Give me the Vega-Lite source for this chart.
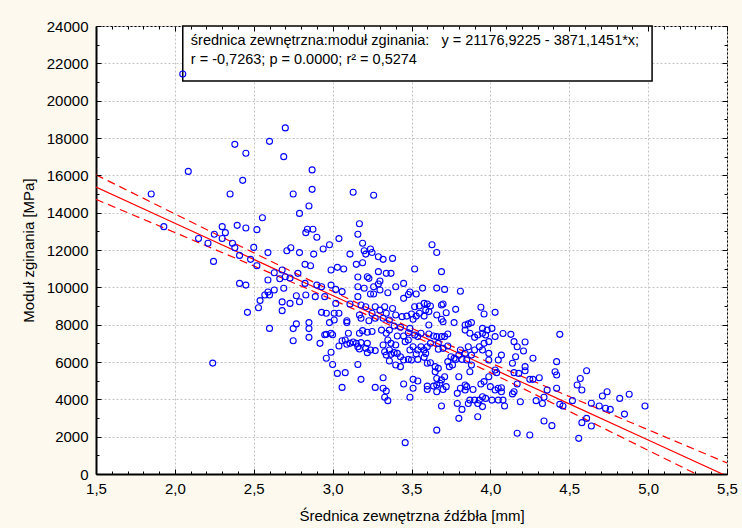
{
"$schema":"https://vega.github.io/schema/vega-lite/v6.json",
"width":631,"height":448,"autosize":"none",
"padding":{"left":96,"top":26,"right":15,"bottom":54},
"background":"#fdf9ee",
"config":{"font":"Liberation Sans","view":{"fill":"white","stroke":"black","strokeWidth":1}},
"datasets":{
"fit":[
{"x":1.5,"fit":15370,"lo":14713,"hi":16027},
{"x":2.0,"fit":13435,"lo":12934,"hi":13936},
{"x":2.5,"fit":11499,"lo":11147,"hi":11851},
{"x":3.0,"fit":9564,"lo":9336,"hi":9790},
{"x":3.5,"fit":7628,"lo":7446,"hi":7810},
{"x":4.0,"fit":5692,"lo":5430,"hi":5954},
{"x":4.5,"fit":3757,"lo":3359,"hi":4155},
{"x":5.0,"fit":1821,"lo":1271,"hi":2371},
{"x":5.5,"fit":-114,"lo":-822,"hi":594}
],
"pts":[
{"d":2.05,"m":21430},{"d":2.70,"m":18540},{"d":2.60,"m":17820},{"d":2.69,"m":17000},{"d":2.38,"m":17660},{"d":2.45,"m":17180},{"d":2.085,"m":16210},{"d":2.87,"m":16290},{"d":2.87,"m":15250},{"d":2.43,"m":15730},{"d":2.35,"m":15000},{"d":2.75,"m":15000},{"d":2.85,"m":14360},{"d":2.79,"m":13960},{"d":2.555,"m":13730},{"d":1.85,"m":15000},{"d":1.93,"m":13250},{"d":2.30,"m":13250},{"d":2.395,"m":13320},{"d":2.45,"m":13180},{"d":2.52,"m":13090},{"d":2.25,"m":12840},{"d":2.32,"m":12930},{"d":2.30,"m":12620},{"d":2.15,"m":12620},{"d":2.21,"m":12360},{"d":2.365,"m":12360},{"d":2.38,"m":12120},{"d":2.50,"m":12140},{"d":2.41,"m":11710},{"d":2.48,"m":11500},{"d":2.52,"m":11160},{"d":2.59,"m":11860},{"d":2.245,"m":11390},{"d":2.84,"m":13110},{"d":2.875,"m":13110},{"d":2.83,"m":12930},{"d":2.90,"m":12680},{"d":2.71,"m":11960},{"d":2.735,"m":12120},{"d":2.79,"m":11860},{"d":2.88,"m":11780},{"d":2.94,"m":12050},{"d":2.98,"m":12280},{"d":3.04,"m":12610},{"d":2.825,"m":11230},{"d":2.86,"m":11160},{"d":2.99,"m":10930},{"d":3.03,"m":11070},{"d":2.78,"m":10750},{"d":2.63,"m":10780},{"d":2.68,"m":10930},{"d":2.70,"m":10570},{"d":2.665,"m":10460},{"d":2.73,"m":10500},{"d":2.59,"m":10390},{"d":2.41,"m":10210},{"d":2.45,"m":10120},{"d":2.825,"m":10210},{"d":2.90,"m":10120},{"d":2.93,"m":10030},{"d":2.99,"m":10120},{"d":3.02,"m":9890},{"d":3.06,"m":9770},{"d":2.83,"m":9590},{"d":2.89,"m":9500},{"d":2.95,"m":9500},
{"d":2.46,"m":8660},{"d":2.24,"m":5940},{"d":2.53,"m":8910},{"d":2.54,"m":9290},{"d":2.57,"m":9590},{"d":2.59,"m":9750},{"d":2.60,"m":9590},{"d":2.63,"m":9860},{"d":2.60,"m":7800},{"d":2.68,"m":9220},{"d":2.68,"m":8750},{"d":2.69,"m":9950},{"d":2.73,"m":9140},{"d":2.77,"m":9550},{"d":2.79,"m":9230},{"d":2.75,"m":7790},{"d":2.77,"m":8040},{"d":2.75,"m":7140},
{"d":3.13,"m":15090},{"d":3.26,"m":14930},{"d":3.17,"m":13410},{"d":3.16,"m":12840},{"d":3.19,"m":12360},{"d":3.20,"m":11960},{"d":3.24,"m":12050},{"d":3.25,"m":11870},{"d":3.21,"m":11780},{"d":3.29,"m":11640},{"d":3.32,"m":11500},{"d":3.38,"m":11550},{"d":3.11,"m":11780},{"d":3.63,"m":12280},{"d":3.66,"m":11870},{"d":3.69,"m":10840},{"d":3.52,"m":10980},{"d":3.19,"m":11320},{"d":3.15,"m":11230},{"d":3.07,"m":10980},{"d":3.29,"m":10840},{"d":3.34,"m":10750},{"d":3.37,"m":10750},{"d":3.16,"m":10550},{"d":3.22,"m":10570},{"d":3.23,"m":10480},{"d":3.30,"m":10340},{"d":3.29,"m":10180},{"d":3.16,"m":10030},{"d":3.20,"m":9950},{"d":3.26,"m":10030},{"d":3.30,"m":9860},{"d":3.24,"m":9640},{"d":3.26,"m":9640},{"d":3.35,"m":9710},{"d":3.40,"m":10030},{"d":3.45,"m":10210},{"d":3.57,"m":9960},{"d":3.66,"m":9960},{"d":3.71,"m":9890},{"d":3.81,"m":9790},{"d":3.53,"m":9640},{"d":3.49,"m":9750},{"d":3.48,"m":9620},{"d":3.45,"m":9410},{"d":3.16,"m":9500},{"d":3.11,"m":9110},
{"d":2.85,"m":8110},{"d":2.85,"m":7790},{"d":2.85,"m":7320},{"d":2.92,"m":7000},{"d":2.93,"m":8660},{"d":2.96,"m":8610},{"d":2.95,"m":7460},{"d":2.96,"m":7480},{"d":2.99,"m":7540},{"d":3.00,"m":7460},{"d":2.98,"m":8110},{"d":3.01,"m":8610},{"d":3.04,"m":8610},{"d":3.01,"m":8250},{"d":3.09,"m":8210},{"d":3.09,"m":8110},{"d":3.02,"m":9140},{"d":2.99,"m":6520},{"d":2.96,"m":6200},{"d":3.00,"m":5870},{"d":3.03,"m":5390},{"d":3.08,"m":5430},{"d":3.06,"m":4640},{"d":3.04,"m":6860},{"d":3.06,"m":7140},{"d":3.08,"m":7180},{"d":3.09,"m":6950},{"d":3.11,"m":7000},{"d":3.13,"m":7070},{"d":3.15,"m":7000},{"d":3.16,"m":6820},{"d":3.18,"m":7040},{"d":3.22,"m":7000},{"d":3.21,"m":6730},{"d":3.22,"m":6500},{"d":3.24,"m":6640},{"d":3.27,"m":6610},{"d":3.17,"m":6700},{"d":3.10,"m":7540},{"d":3.17,"m":7540},{"d":3.19,"m":7680},{"d":3.22,"m":7590},{"d":3.25,"m":7630},{"d":3.17,"m":8520},{"d":3.18,"m":8340},{"d":3.23,"m":8210},{"d":3.27,"m":8340},{"d":3.25,"m":8610},{"d":3.21,"m":8960},{"d":3.18,"m":9050},{"d":3.27,"m":8960},{"d":3.30,"m":8780},{"d":3.33,"m":8960},{"d":3.32,"m":8340},{"d":3.34,"m":8610},{"d":3.36,"m":8250},{"d":3.38,"m":8870},{"d":3.16,"m":5870},{"d":3.18,"m":5070},{"d":3.27,"m":4640},{"d":3.32,"m":5160},{"d":3.32,"m":4590},{"d":3.34,"m":4440},{"d":3.33,"m":4110},{"d":3.35,"m":3930},{"d":3.31,"m":7710},{"d":3.32,"m":6910},{"d":3.34,"m":7540},{"d":3.35,"m":7180},{"d":3.36,"m":7710},{"d":3.37,"m":7000},{"d":3.36,"m":6640},{"d":3.33,"m":6550},{"d":3.34,"m":6370},{"d":3.36,"m":6050},{"d":3.37,"m":6410},{"d":3.39,"m":6500},
{"d":3.40,"m":8520},{"d":3.44,"m":8430},{"d":3.47,"m":8460},{"d":3.50,"m":8570},{"d":3.51,"m":8290},{"d":3.53,"m":8460},{"d":3.52,"m":8960},{"d":3.55,"m":9000},{"d":3.55,"m":8610},{"d":3.58,"m":9140},{"d":3.60,"m":9110},{"d":3.61,"m":8700},{"d":3.58,"m":8460},{"d":3.59,"m":8780},{"d":3.62,"m":9000},{"d":3.66,"m":8520},{"d":3.69,"m":9050},{"d":3.70,"m":9110},{"d":3.72,"m":8640},{"d":3.69,"m":8290},{"d":3.70,"m":8160},{"d":3.78,"m":8820},{"d":3.77,"m":8110},{"d":3.94,"m":8930},{"d":3.96,"m":8570},{"d":4.03,"m":8660},{"d":3.39,"m":7930},{"d":3.43,"m":7860},{"d":3.49,"m":7800},{"d":3.48,"m":7570},{"d":3.52,"m":7450},{"d":3.54,"m":7360},{"d":3.56,"m":7540},{"d":3.61,"m":7980},{"d":3.61,"m":7500},{"d":3.64,"m":7390},{"d":3.66,"m":7360},{"d":3.67,"m":7000},{"d":3.69,"m":7360},{"d":3.71,"m":7360},{"d":3.73,"m":7500},{"d":3.73,"m":6860},{"d":3.70,"m":6730},{"d":3.67,"m":6680},{"d":3.62,"m":7000},{"d":3.60,"m":6820},{"d":3.59,"m":6460},{"d":3.58,"m":6640},{"d":3.56,"m":6820},{"d":3.54,"m":6640},{"d":3.53,"m":6430},{"d":3.51,"m":6820},{"d":3.49,"m":6640},{"d":3.48,"m":7180},{"d":3.46,"m":7090},{"d":3.45,"m":7390},{"d":3.41,"m":7390},{"d":3.40,"m":6910},{"d":3.41,"m":6460},{"d":3.43,"m":6280},{"d":3.45,"m":6110},{"d":3.43,"m":5750},{"d":3.40,"m":5840},{"d":3.48,"m":6140},{"d":3.50,"m":6110},{"d":3.54,"m":6140},{"d":3.58,"m":6250},{"d":3.60,"m":5930},{"d":3.62,"m":5960},{"d":3.65,"m":5750},{"d":3.67,"m":5660},{"d":3.65,"m":5480},{"d":3.66,"m":5120},{"d":3.66,"m":4770},{"d":3.68,"m":4860},{"d":3.70,"m":4530},{"d":3.72,"m":4680},{"d":3.69,"m":5040},{"d":3.71,"m":5210},{"d":3.73,"m":6020},{"d":3.75,"m":6280},{"d":3.77,"m":6200},{"d":3.74,"m":5750},{"d":3.80,"m":6370},{"d":3.81,"m":6640},{"d":3.86,"m":6820},{"d":3.84,"m":6460},{"d":3.88,"m":6370},{"d":3.90,"m":6640},{"d":3.93,"m":6820},{"d":3.95,"m":6640},{"d":3.96,"m":7000},{"d":3.99,"m":7090},{"d":3.97,"m":7450},{"d":3.95,"m":7540},{"d":3.92,"m":7450},{"d":3.90,"m":7320},{"d":3.87,"m":7540},{"d":3.84,"m":7710},{"d":3.84,"m":7980},{"d":3.86,"m":8040},{"d":3.88,"m":8110},{"d":3.95,"m":7800},{"d":3.98,"m":7710},{"d":4.01,"m":7800},{"d":4.03,"m":7360},{"d":3.99,"m":6460},{"d":3.99,"m":6110},{"d":4.05,"m":6110},{"d":4.03,"m":5570},{"d":4.04,"m":5430},{"d":3.99,"m":5210},{"d":3.96,"m":4950},{"d":3.94,"m":4820},{"d":4.00,"m":4680},{"d":4.03,"m":4500},{"d":4.05,"m":4590},{"d":4.05,"m":3960},{"d":4.01,"m":3960},{"d":3.97,"m":4050},{"d":3.95,"m":4140},{"d":3.93,"m":3960},{"d":3.92,"m":3780},{"d":3.95,"m":3610},{"d":3.90,"m":3960},{"d":3.87,"m":3960},{"d":3.86,"m":3780},{"d":3.84,"m":4500},{"d":3.85,"m":4680},{"d":3.84,"m":4770},{"d":3.81,"m":4590},{"d":3.79,"m":4320},{"d":3.79,"m":3780},{"d":3.82,"m":3460},{"d":3.80,"m":2980},{"d":3.92,"m":3070},{"d":3.89,"m":4530},{"d":3.80,"m":5210},{"d":3.87,"m":5480},{"d":3.88,"m":5840},{"d":3.85,"m":6110},{"d":3.82,"m":6140},{"d":3.78,"m":6140},{"d":3.76,"m":5840},{"d":3.45,"m":4820},{"d":3.51,"m":5070},{"d":3.54,"m":4980},{"d":3.51,"m":4590},{"d":3.49,"m":4110},{"d":3.60,"m":4710},{"d":3.60,"m":4530},{"d":3.64,"m":4710},{"d":3.66,"m":4410},{"d":3.69,"m":3640},{"d":3.66,"m":2350},{"d":3.46,"m":1680},
{"d":4.08,"m":7530},{"d":4.13,"m":7480},{"d":4.15,"m":7090},{"d":4.17,"m":6820},{"d":4.22,"m":7070},{"d":4.21,"m":6590},{"d":4.16,"m":6280},{"d":4.27,"m":6200},{"d":4.14,"m":5930},{"d":4.07,"m":6370},{"d":4.07,"m":4620},{"d":4.07,"m":4410},{"d":4.08,"m":3960},{"d":4.09,"m":3640},{"d":4.15,"m":5430},{"d":4.18,"m":5390},{"d":4.22,"m":5750},{"d":4.22,"m":5530},{"d":4.25,"m":5070},{"d":4.27,"m":5070},{"d":4.31,"m":5160},{"d":4.17,"m":4820},{"d":4.15,"m":4410},{"d":4.14,"m":4290},{"d":4.19,"m":3870},{"d":4.29,"m":3930},{"d":4.33,"m":3780},{"d":4.34,"m":4110},{"d":4.36,"m":4500},{"d":4.44,"m":7480},{"d":4.42,"m":6020},{"d":4.41,"m":5480},{"d":4.42,"m":5300},{"d":4.42,"m":4590},{"d":4.44,"m":3730},{"d":4.46,"m":3640},{"d":4.52,"m":3930},{"d":4.55,"m":4770},{"d":4.57,"m":5120},{"d":4.61,"m":5530},{"d":4.58,"m":4500},{"d":4.61,"m":2980},{"d":4.58,"m":2750},{"d":4.64,"m":2570},{"d":4.64,"m":3790},{"d":4.69,"m":3640},{"d":4.71,"m":4180},{"d":4.74,"m":4410},{"d":4.73,"m":3520},{"d":4.76,"m":3460},{"d":4.82,"m":4050},{"d":4.34,"m":2840},{"d":4.39,"m":2590},{"d":4.17,"m":2180},{"d":4.25,"m":2090},{"d":4.56,"m":1910},
{"d":4.88,"m":4270},{"d":4.85,"m":3210},{"d":4.98,"m":3640}
]
},
"resolve":{"axis":{"x":"independent","y":"independent"}},
"layer":[
{"data":{"values":[{}]},
 "mark":{"type":"rect","fill":"white","stroke":"black","strokeWidth":1.5},
 "encoding":{
  "x":{"datum":2.05,"type":"quantitative","scale":{"domain":[1.5,5.5],"nice":false,"zero":false},
       "axis":{"orient":"top","values":[1.6,1.7,1.8,1.9,2.1,2.2,2.3,2.4,2.6,2.7,2.8,2.9,3.1,3.2,3.3,3.4,3.6,3.7,3.8,3.9,4.1,4.2,4.3,4.4,4.6,4.7,4.8,4.9,5.1,5.2,5.3,5.4],"labels":false,"grid":false,"domain":false,"tickSize":-3,"tickColor":"black","title":null,"zindex":1}},
  "x2":{"datum":5.025},
  "y":{"datum":24000,"type":"quantitative","scale":{"domain":[0,24000],"nice":false,"zero":false},
       "axis":{"orient":"right","values":[1000,3000,5000,7000,9000,11000,13000,15000,17000,19000,21000,23000],"labels":false,"grid":false,"domain":false,"tickSize":-3,"tickColor":"black","title":null,"zindex":1}},
  "y2":{"datum":21050}}},
{"data":{"values":[{}]},
 "mark":{"type":"text","align":"left","baseline":"alphabetic","fontSize":14.5,"lineHeight":19,"color":"black","font":"Liberation Sans"},
 "encoding":{
  "x":{"datum":2.101,"type":"quantitative","axis":null},
  "y":{"datum":22982,"type":"quantitative","axis":null},
  "text":{"value":["średnica zewnętrzna:moduł zginania:\u00a0\u00a0\u00a0y = 21176,9225 - 3871,1451*x;","r = -0,7263; p = 0.0000; r² = 0,5274"]}}},
{"data":{"name":"fit"},
 "mark":{"type":"line","color":"#ff0000","strokeWidth":1.2,"clip":true},
 "encoding":{
  "x":{"field":"x","type":"quantitative","scale":{"domain":[1.5,5.5],"nice":false,"zero":false},
       "axis":{"orient":"bottom","values":[1.5,2,2.5,3,3.5,4,4.5,5,5.5],"labels":false,"grid":false,"domain":false,"tickSize":-5,"tickColor":"black","title":null,"zindex":1}},
  "y":{"field":"fit","type":"quantitative","scale":{"domain":[0,24000],"nice":false,"zero":false},
       "axis":{"orient":"left","values":[0,2000,4000,6000,8000,10000,12000,14000,16000,18000,20000,22000,24000],"labels":false,"grid":false,"domain":false,"tickSize":-5,"tickColor":"black","title":null,"zindex":1}}}},
{"data":{"name":"fit"},
 "mark":{"type":"line","color":"#ff0000","strokeWidth":1.2,"strokeDash":[8,5],"interpolate":"monotone","clip":true},
 "encoding":{
  "x":{"field":"x","type":"quantitative",
       "axis":{"orient":"bottom","values":[1.6,1.7,1.8,1.9,2.1,2.2,2.3,2.4,2.6,2.7,2.8,2.9,3.1,3.2,3.3,3.4,3.6,3.7,3.8,3.9,4.1,4.2,4.3,4.4,4.6,4.7,4.8,4.9,5.1,5.2,5.3,5.4],"labels":false,"grid":false,"domain":false,"tickSize":-3,"tickColor":"black","title":null,"zindex":1}},
  "y":{"field":"hi","type":"quantitative",
       "axis":{"orient":"left","values":[1000,3000,5000,7000,9000,11000,13000,15000,17000,19000,21000,23000],"labels":false,"grid":false,"domain":false,"tickSize":-3,"tickColor":"black","title":null,"zindex":1}}}},
{"data":{"name":"fit"},
 "mark":{"type":"line","color":"#ff0000","strokeWidth":1.2,"strokeDash":[8,5],"interpolate":"monotone","clip":true},
 "encoding":{
  "x":{"field":"x","type":"quantitative",
       "axis":{"orient":"top","values":[1.5,2,2.5,3,3.5,4,4.5,5,5.5],"labels":false,"grid":false,"domain":false,"tickSize":-5,"tickColor":"black","title":null,"zindex":1}},
  "y":{"field":"lo","type":"quantitative",
       "axis":{"orient":"right","values":[0,2000,4000,6000,8000,10000,12000,14000,16000,18000,20000,22000,24000],"labels":false,"grid":false,"domain":false,"tickSize":-5,"tickColor":"black","title":null,"zindex":1}}}},
{"data":{"name":"pts"},
 "mark":{"type":"point","shape":"circle","filled":false,"color":"#0000ff","size":36,"strokeWidth":1.1,"opacity":1},
 "encoding":{
  "x":{"field":"d","type":"quantitative","scale":{"domain":[1.5,5.5],"nice":false,"zero":false},
       "axis":{"orient":"bottom","values":[1.5,2,2.5,3,3.5,4,4.5,5,5.5],"labelExpr":"replace(format(datum.value,'.1f'),'.',',')","labelFlush":false,"labelOverlap":false,"ticks":false,"domain":true,"domainColor":"black","domainWidth":2,"grid":true,"gridColor":"#c4c4c4","gridDash":[2,2],"gridWidth":1,"labelFont":"Liberation Sans","labelFontSize":15,"labelColor":"black","labelPadding":7,"title":"Średnica zewnętrzna źdźbła [mm]","titleFont":"Liberation Sans","titleFontSize":15,"titleFontWeight":"normal","titleColor":"black","titlePadding":12}},
  "y":{"field":"m","type":"quantitative","scale":{"domain":[0,24000],"nice":false,"zero":false},
       "axis":{"orient":"left","values":[0,2000,4000,6000,8000,10000,12000,14000,16000,18000,20000,22000,24000],"format":"d","labelFlush":false,"labelOverlap":false,"ticks":false,"domain":true,"domainColor":"black","domainWidth":2,"grid":true,"gridColor":"#c4c4c4","gridDash":[2,2],"gridWidth":1,"labelFont":"Liberation Sans","labelFontSize":15,"labelColor":"black","labelPadding":8,"title":"Moduł zginania [MPa]","titleFont":"Liberation Sans","titleFontSize":15,"titleFontWeight":"normal","titleColor":"black","titlePadding":10}}}}
]
}
